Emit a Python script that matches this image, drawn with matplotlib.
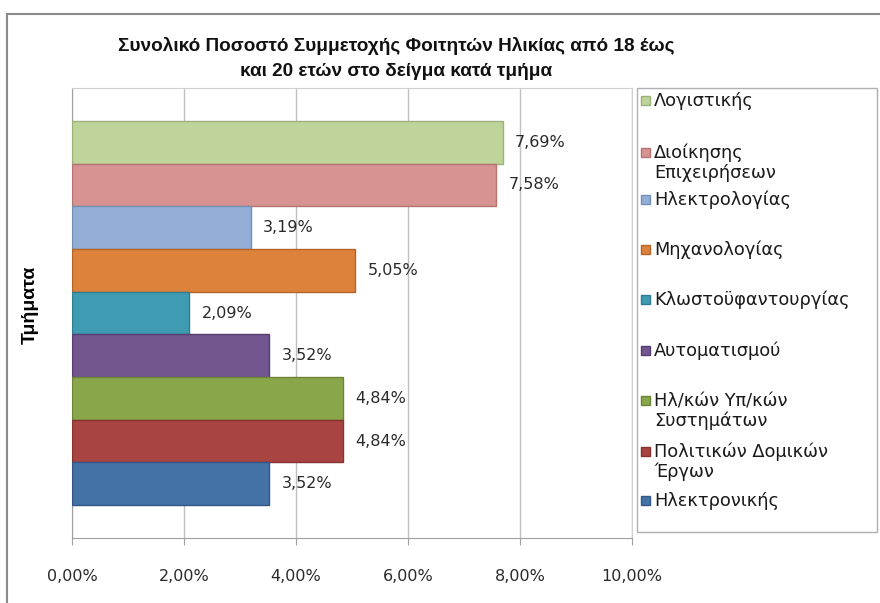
import matplotlib
matplotlib.use("Agg")
import matplotlib.pyplot as plt
from matplotlib.patches import Rectangle

departments = ["Λογιστικής", "Διοίκησης\nΕπιχειρήσεων", "Ηλεκτρολογίας", "Μηχανολογίας",
               "Κλωστοϋφαντουργίας", "Αυτοματισμού", "Ηλ/κών Υπ/κών\nΣυστημάτων",
               "Πολιτικών Δομικών\nΈργων", "Ηλεκτρονικής"]
values = [7.69, 7.58, 3.19, 5.05, 2.09, 3.52, 4.84, 4.84, 3.52]
colors = ["#BED49A", "#D79391", "#93AED6", "#DD823B", "#3F9BB2",
          "#71568F", "#89A64A", "#A84442", "#4471A6"]
edges = ["#9DB27A", "#B57472", "#7490B5", "#B5652A", "#2F7D90",
         "#563F70", "#6C853A", "#863230", "#335887"]
xticks = [0, 2, 4, 6, 8, 10]
title_lines = ["Συνολικό Ποσοστό Συμμετοχής Φοιτητών Ηλικίας από 18 έως",
               "και 20 ετών στο δείγμα κατά τμήμα"]
# legend entry rows (pixels from top)
legend_rows = [101, 153, 200, 250, 300, 351, 401, 452, 501]

W, H = 880, 603
fig = plt.figure(figsize=(W / 100, H / 100), dpi=100)

# outer chart frame
fig.patches.append(Rectangle((7 / W, -0.05), 1.0, 1 - 14 / H + 0.05, transform=fig.transFigure,
                             fill=False, edgecolor="#8a8a8a", linewidth=1.5))

ax = fig.add_axes([72 / W, 1 - 538 / H, 560 / W, 450 / H])
n = len(values)
ypos = list(range(n))[::-1]
ax.barh(ypos, values, height=1.0, color=colors, edgecolor=edges, linewidth=1, zorder=3)
for y, v in zip(ypos, values):
    ax.annotate(f"{v:.2f}%".replace(".", ","), (v, y), xytext=(9, 0), textcoords="offset points",
                va="center", ha="left", fontsize=11.5, color="#2a2a2a")

ax.set_xlim(0, 10)
ax.set_ylim(-0.5 - 0.773, n - 0.5 + 0.773)
ax.set_xticks(xticks)
ax.set_xticklabels([f"{t:.2f}%".replace(".", ",") for t in xticks], fontsize=11.5, color="#2a2a2a")
ax.set_yticks([])
ax.grid(axis="x", color="#c0c0c0", linewidth=1, zorder=0)
for s in ["top", "right"]:
    ax.spines[s].set_color("#d0d0d0")
for s in ["left", "bottom"]:
    ax.spines[s].set_color("#a0a0a0")
ax.tick_params(axis="x", length=5, color="#a0a0a0", pad=17)

for k, line in enumerate(title_lines):
    fig.text(396 / W, 1 - (46 + 26 * k) / H, line, ha="center", va="center",
             fontsize=13.7, fontweight="bold", family="Liberation Sans", color="#111111")
fig.text(30 / W, 1 - 305 / H, "Τμήματα", rotation=90, ha="center", va="center",
         fontsize=14, fontweight="bold", family="Liberation Sans")

# legend box
fig.patches.append(Rectangle((637 / W, 1 - 532 / H), 240 / W, 444 / H, transform=fig.transFigure,
                             fill=False, edgecolor="#b0b0b0", linewidth=1))
for yc, lab, c, e in zip(legend_rows, departments, colors, edges):
    fig.patches.append(Rectangle((641 / W, 1 - (yc + 4) / H), 9 / W, 9 / H,
                                 transform=fig.transFigure, facecolor=c, edgecolor=e, linewidth=1))
    for j, line in enumerate(lab.split("\n")):
        fig.text(654 / W, 1 - (yc + 20 * j) / H, line, ha="left", va="center",
                 fontsize=12.8, color="#1a1a1a")

fig.savefig("out.png", dpi=100)
